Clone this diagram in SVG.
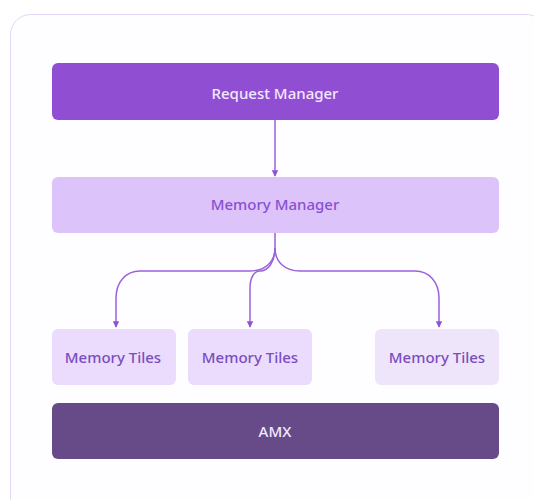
<svg xmlns="http://www.w3.org/2000/svg" width="534" height="500" viewBox="0 0 534 500">
<style>
.lbl{font-family:"Noto Sans","Open Sans",sans-serif;font-size:15px;font-weight:500;text-anchor:middle;dominant-baseline:central}
.con{fill:none;stroke:#9b62dc;stroke-width:1.5}
</style>
<defs>
<marker id="ah" viewBox="0 0 8 8" refX="7" refY="4" markerWidth="6.5" markerHeight="6.5" markerUnits="userSpaceOnUse" orient="auto">
<path d="M0,0 L8,4 L0,8 Z" fill="#8e52d6"/>
</marker>
</defs>
<rect width="534" height="500" fill="#ffffff"/>
<rect x="10.5" y="14.5" width="536" height="505" rx="20" fill="#fefdff" stroke="#e4d7f5" stroke-width="1"/>
<g id="connectors">
<path class="con" d="M275,120 L275,176" marker-end="url(#ah)"/>
<path class="con" d="M275,233 L275,248 C275,262 265,271 250,271 L140,271 C126,271 116,282 116,298 L116,327" marker-end="url(#ah)"/>
<path class="con" d="M275,248 C275,262 268,271 260,271 C254,271 250,278 250,288 L250,327" marker-end="url(#ah)"/>
<path class="con" d="M275,248 C275,262 285,271 300,271 L415,271 C429,271 439,282 439,298 L439,327" marker-end="url(#ah)"/>
</g>
<g id="request-manager">
<rect x="52" y="63" width="447" height="57" rx="6" fill="#904fd2"/>
<text class="lbl" x="275" y="93" fill="#f3e8ff">Request Manager</text>
</g>
<g id="memory-manager">
<rect x="52" y="177" width="447" height="56" rx="6" fill="#dcc4fb"/>
<text class="lbl" x="275" y="204" fill="#8a4fd2">Memory Manager</text>
</g>
<g id="memory-tiles-1">
<rect x="52" y="329" width="124" height="56" rx="6" fill="#ebdcfd"/>
<text class="lbl" x="113" y="357" fill="#7a4dbf">Memory Tiles</text>
</g>
<g id="memory-tiles-2">
<rect x="188" y="329" width="124" height="56" rx="6" fill="#ebdcfd"/>
<text class="lbl" x="250" y="357" fill="#7a4dbf">Memory Tiles</text>
</g>
<g id="memory-tiles-3">
<rect x="375" y="329" width="124" height="56" rx="6" fill="#efe5fb"/>
<text class="lbl" x="437" y="357" fill="#7a4dbf">Memory Tiles</text>
</g>
<g id="amx">
<rect x="52" y="403" width="447" height="56" rx="6" fill="#674a88"/>
<text class="lbl" x="275" y="431" fill="#f1e9ff">AMX</text>
</g>
</svg>
